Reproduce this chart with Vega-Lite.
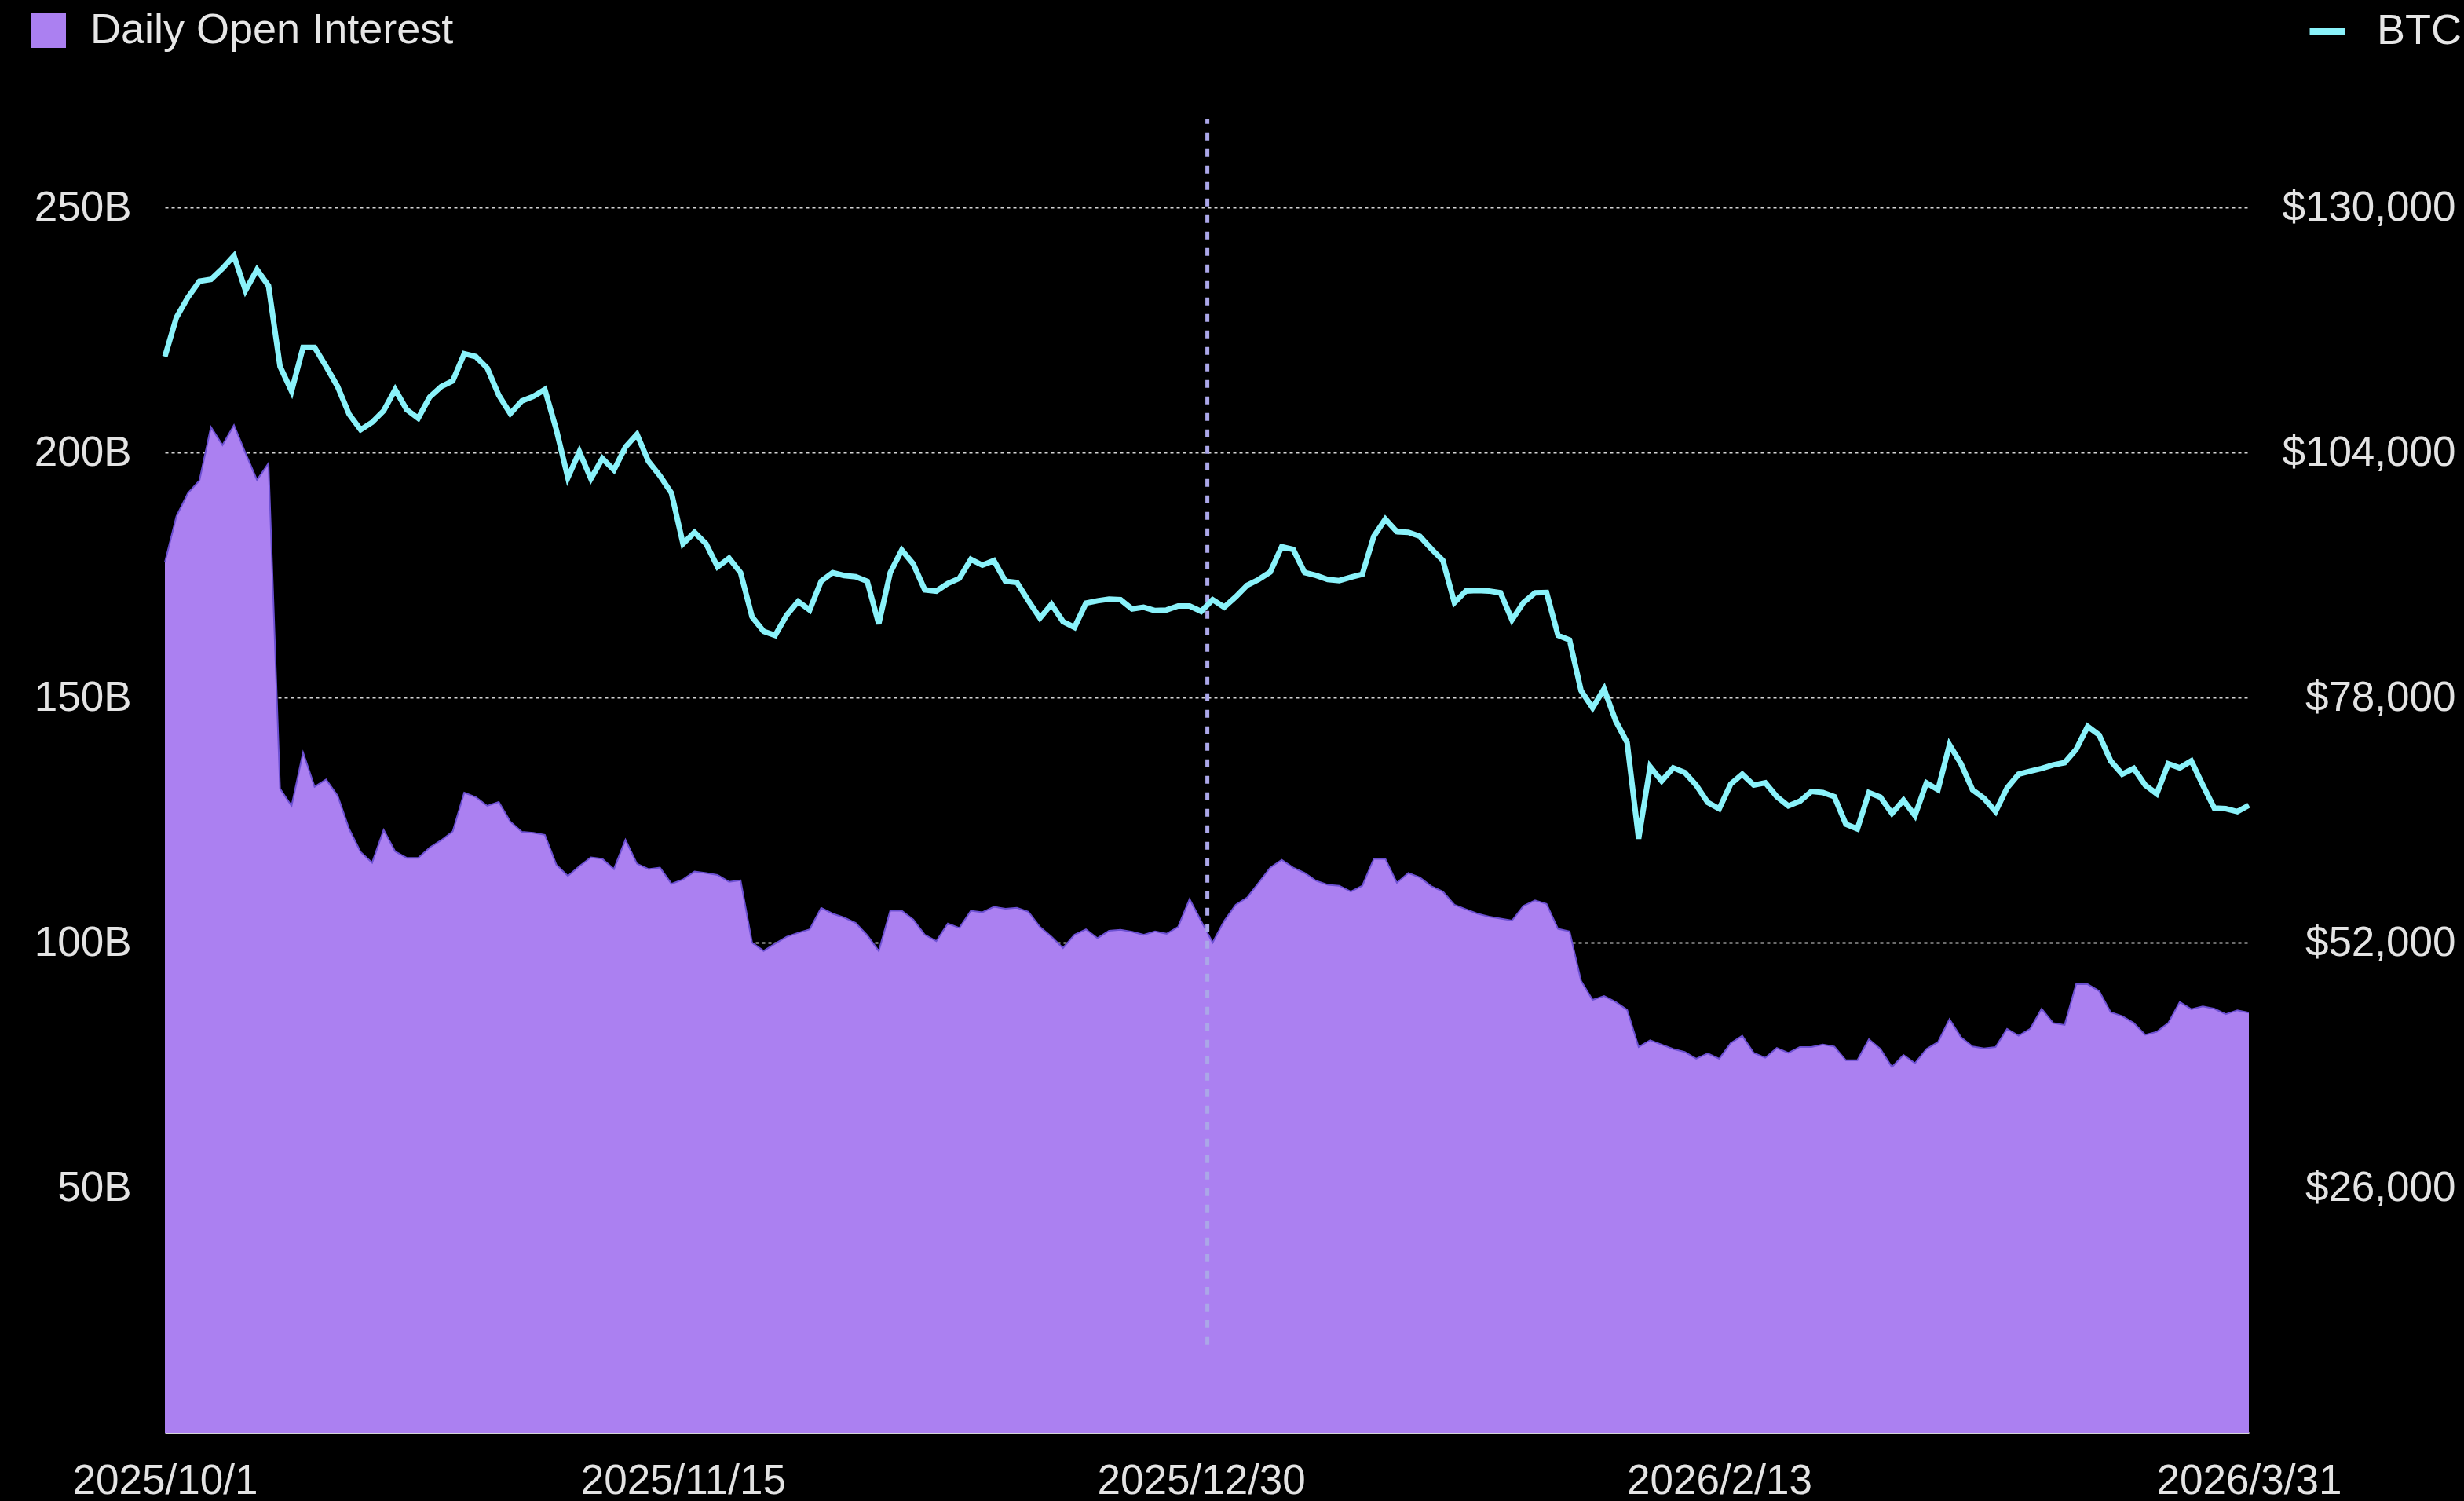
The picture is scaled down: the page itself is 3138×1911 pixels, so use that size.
{
  "$schema": "https://vega.github.io/schema/vega-lite/v6.json",
  "width": 2654,
  "height": 1747,
  "autosize": {"type": "none"},
  "padding": {"left": 210, "top": 77, "right": 274, "bottom": 87},
  "background": "#000000",
  "config": {
    "view": {"stroke": null},
    "font": "Liberation Sans",
    "axis": {"labelFont": "Liberation Sans", "labelFontSize": 53, "labelColor": "#e3e3e3", "title": null, "labelLimit": 0},
    "legend": {"labelFont": "Liberation Sans", "labelFontSize": 54, "labelColor": "#e6e6e6", "title": null, "padding": 0, "labelLimit": 0, "orient": "none"}
  },
  "data": {"values": [
    {"date":"2025-10-01","oi":177.6,"btc":114180},{"date":"2025-10-02","oi":187.0,"btc":118330},{"date":"2025-10-03","oi":191.7,"btc":120470},{"date":"2025-10-04","oi":194.3,"btc":122180},{"date":"2025-10-05","oi":205.2,"btc":122370},{"date":"2025-10-06","oi":201.5,"btc":123530},{"date":"2025-10-07","oi":205.6,"btc":124870},{"date":"2025-10-08","oi":199.9,"btc":121200},{"date":"2025-10-09","oi":194.4,"btc":123400},{"date":"2025-10-10","oi":197.8,"btc":121690},
    {"date":"2025-10-11","oi":131.4,"btc":113140},{"date":"2025-10-12","oi":127.9,"btc":110510},{"date":"2025-10-13","oi":138.8,"btc":115160},{"date":"2025-10-14","oi":131.8,"btc":115160},{"date":"2025-10-15","oi":133.3,"btc":113140},{"date":"2025-10-16","oi":130.0,"btc":111000},{"date":"2025-10-17","oi":123.2,"btc":108070},{"date":"2025-10-18","oi":118.5,"btc":106420},{"date":"2025-10-19","oi":116.3,"btc":107210},{"date":"2025-10-20","oi":123.0,"btc":108430},
    {"date":"2025-10-21","oi":118.6,"btc":110690},{"date":"2025-10-22","oi":117.3,"btc":108560},{"date":"2025-10-23","oi":117.3,"btc":107640},{"date":"2025-10-24","oi":119.4,"btc":109900},{"date":"2025-10-25","oi":120.9,"btc":111000},{"date":"2025-10-26","oi":122.7,"btc":111610},{"date":"2025-10-27","oi":130.6,"btc":114480},{"date":"2025-10-28","oi":129.7,"btc":114180},{"date":"2025-10-29","oi":127.9,"btc":112960},{"date":"2025-10-30","oi":128.7,"btc":110080},
    {"date":"2025-10-31","oi":124.7,"btc":108130},{"date":"2025-11-01","oi":122.6,"btc":109470},{"date":"2025-11-02","oi":122.4,"btc":109960},{"date":"2025-11-03","oi":122.0,"btc":110690},{"date":"2025-11-04","oi":115.9,"btc":106420},{"date":"2025-11-05","oi":113.6,"btc":101340},{"date":"2025-11-06","oi":115.6,"btc":104090},{"date":"2025-11-07","oi":117.4,"btc":101220},{"date":"2025-11-08","oi":117.1,"btc":103360},{"date":"2025-11-09","oi":115.0,"btc":102140},
    {"date":"2025-11-10","oi":121.0,"btc":104580},{"date":"2025-11-11","oi":116.1,"btc":105930},{"date":"2025-11-12","oi":115.0,"btc":103050},{"date":"2025-11-13","oi":115.3,"btc":101530},{"date":"2025-11-14","oi":112.0,"btc":99690},{"date":"2025-11-15","oi":112.9,"btc":94320},{"date":"2025-11-16","oi":114.5,"btc":95540},{"date":"2025-11-17","oi":114.2,"btc":94320},{"date":"2025-11-18","oi":113.8,"btc":91870},{"date":"2025-11-19","oi":112.4,"btc":92790},
    {"date":"2025-11-20","oi":112.7,"btc":91260},{"date":"2025-11-21","oi":100.0,"btc":86560},{"date":"2025-11-22","oi":98.3,"btc":85030},{"date":"2025-11-23","oi":99.8,"btc":84600},{"date":"2025-11-24","oi":101.2,"btc":86740},{"date":"2025-11-25","oi":102.0,"btc":88200},{"date":"2025-11-26","oi":102.7,"btc":87290},{"date":"2025-11-27","oi":107.1,"btc":90340},{"date":"2025-11-28","oi":105.9,"btc":91260},{"date":"2025-11-29","oi":105.1,"btc":90950},
    {"date":"2025-11-30","oi":104.0,"btc":90830},{"date":"2025-12-01","oi":101.5,"btc":90340},{"date":"2025-12-02","oi":98.3,"btc":85820},{"date":"2025-12-03","oi":106.5,"btc":91260},{"date":"2025-12-04","oi":106.5,"btc":93650},{"date":"2025-12-05","oi":104.7,"btc":92180},{"date":"2025-12-06","oi":101.6,"btc":89430},{"date":"2025-12-07","oi":100.3,"btc":89300},{"date":"2025-12-08","oi":103.9,"btc":90100},{"date":"2025-12-09","oi":103.0,"btc":90650},
    {"date":"2025-12-10","oi":106.5,"btc":92670},{"date":"2025-12-11","oi":106.2,"btc":92050},{"date":"2025-12-12","oi":107.3,"btc":92540},{"date":"2025-12-13","oi":106.9,"btc":90340},{"date":"2025-12-14","oi":107.1,"btc":90220},{"date":"2025-12-15","oi":106.3,"btc":88270},{"date":"2025-12-16","oi":103.2,"btc":86430},{"date":"2025-12-17","oi":101.2,"btc":87900},{"date":"2025-12-18","oi":98.9,"btc":86070},{"date":"2025-12-19","oi":101.6,"btc":85450},
    {"date":"2025-12-20","oi":102.7,"btc":88020},{"date":"2025-12-21","oi":100.9,"btc":88270},{"date":"2025-12-22","oi":102.4,"btc":88450},{"date":"2025-12-23","oi":102.6,"btc":88390},{"date":"2025-12-24","oi":102.2,"btc":87410},{"date":"2025-12-25","oi":101.6,"btc":87590},{"date":"2025-12-26","oi":102.3,"btc":87230},{"date":"2025-12-27","oi":101.8,"btc":87290},{"date":"2025-12-28","oi":103.2,"btc":87720},{"date":"2025-12-29","oi":108.9,"btc":87720},
    {"date":"2025-12-30","oi":104.4,"btc":87140},{"date":"2025-12-31","oi":100.0,"btc":88390},{"date":"2026-01-01","oi":104.4,"btc":87590},{"date":"2026-01-02","oi":107.7,"btc":88690},{"date":"2026-01-03","oi":109.2,"btc":89920},{"date":"2026-01-04","oi":112.2,"btc":90530},{"date":"2026-01-05","oi":115.3,"btc":91320},{"date":"2026-01-06","oi":116.9,"btc":94010},{"date":"2026-01-07","oi":115.3,"btc":93710},{"date":"2026-01-08","oi":114.2,"btc":91260},
    {"date":"2026-01-09","oi":112.6,"btc":90960},{"date":"2026-01-10","oi":111.8,"btc":90530},{"date":"2026-01-11","oi":111.6,"btc":90410},{"date":"2026-01-12","oi":110.4,"btc":90770},{"date":"2026-01-13","oi":111.6,"btc":91080},{"date":"2026-01-14","oi":117.1,"btc":95110},{"date":"2026-01-15","oi":117.1,"btc":96940},{"date":"2026-01-16","oi":112.2,"btc":95600},{"date":"2026-01-17","oi":114.2,"btc":95540},{"date":"2026-01-18","oi":113.3,"btc":95110},
    {"date":"2026-01-19","oi":111.5,"btc":93770},{"date":"2026-01-20","oi":110.4,"btc":92540},{"date":"2026-01-21","oi":107.7,"btc":88080},{"date":"2026-01-22","oi":106.8,"btc":89310},{"date":"2026-01-23","oi":105.9,"btc":89370},{"date":"2026-01-24","oi":105.3,"btc":89310},{"date":"2026-01-25","oi":104.9,"btc":89120},{"date":"2026-01-26","oi":104.5,"btc":86250},{"date":"2026-01-27","oi":107.5,"btc":88080},{"date":"2026-01-28","oi":108.6,"btc":89120},
    {"date":"2026-01-29","oi":107.9,"btc":89150},{"date":"2026-01-30","oi":102.8,"btc":84600},{"date":"2026-01-31","oi":102.3,"btc":84110},{"date":"2026-02-01","oi":92.2,"btc":78730},{"date":"2026-02-02","oi":88.3,"btc":76900},{"date":"2026-02-03","oi":89.1,"btc":78920},{"date":"2026-02-04","oi":87.9,"btc":75550},{"date":"2026-02-05","oi":86.3,"btc":73230},{"date":"2026-02-06","oi":78.7,"btc":63030},{"date":"2026-02-07","oi":80.1,"btc":70670},
    {"date":"2026-02-08","oi":79.2,"btc":69140},{"date":"2026-02-09","oi":78.3,"btc":70540},{"date":"2026-02-10","oi":77.7,"btc":70050},{"date":"2026-02-11","oi":76.3,"btc":68710},{"date":"2026-02-12","oi":77.4,"btc":66880},{"date":"2026-02-13","oi":76.3,"btc":66200},{"date":"2026-02-14","oi":79.5,"btc":68830},{"date":"2026-02-15","oi":81.0,"btc":69870},{"date":"2026-02-16","oi":77.5,"btc":68710},{"date":"2026-02-17","oi":76.5,"btc":68960},
    {"date":"2026-02-18","oi":78.5,"btc":67490},{"date":"2026-02-19","oi":77.5,"btc":66510},{"date":"2026-02-20","oi":78.7,"btc":67000},{"date":"2026-02-21","oi":78.7,"btc":68040},{"date":"2026-02-22","oi":79.2,"btc":67920},{"date":"2026-02-23","oi":78.8,"btc":67490},{"date":"2026-02-24","oi":76.0,"btc":64560},{"date":"2026-02-25","oi":76.0,"btc":64070},{"date":"2026-02-26","oi":80.3,"btc":67920},{"date":"2026-02-27","oi":78.3,"btc":67430},
    {"date":"2026-02-28","oi":74.6,"btc":65700},{"date":"2026-03-01","oi":77.1,"btc":67120},{"date":"2026-03-02","oi":75.4,"btc":65470},{"date":"2026-03-03","oi":78.3,"btc":68950},{"date":"2026-03-04","oi":79.7,"btc":68220},{"date":"2026-03-05","oi":84.4,"btc":72990},{"date":"2026-03-06","oi":80.7,"btc":70970},{"date":"2026-03-07","oi":78.8,"btc":68220},{"date":"2026-03-08","oi":78.4,"btc":67310},{"date":"2026-03-09","oi":78.7,"btc":65900},
    {"date":"2026-03-10","oi":82.4,"btc":68410},{"date":"2026-03-11","oi":81.0,"btc":69870},{"date":"2026-03-12","oi":82.4,"btc":70180},{"date":"2026-03-13","oi":86.5,"btc":70480},{"date":"2026-03-14","oi":83.6,"btc":70850},{"date":"2026-03-15","oi":83.2,"btc":71090},{"date":"2026-03-16","oi":91.5,"btc":72500},{"date":"2026-03-17","oi":91.5,"btc":74940},{"date":"2026-03-18","oi":90.1,"btc":74030},{"date":"2026-03-19","oi":85.8,"btc":71280},
    {"date":"2026-03-20","oi":85.0,"btc":69870},{"date":"2026-03-21","oi":83.6,"btc":70480},{"date":"2026-03-22","oi":81.2,"btc":68710},{"date":"2026-03-23","oi":81.8,"btc":67790},{"date":"2026-03-24","oi":83.6,"btc":70970},{"date":"2026-03-25","oi":87.9,"btc":70540},{"date":"2026-03-26","oi":86.4,"btc":71280},{"date":"2026-03-27","oi":87.0,"btc":68710},{"date":"2026-03-28","oi":86.5,"btc":66270},{"date":"2026-03-29","oi":85.4,"btc":66210},
    {"date":"2026-03-30","oi":86.2,"btc":65900},{"date":"2026-03-31","oi":85.7,"btc":66570}
  ]},
  "layer": [
    {
      "layer": [
        {
          "mark": {"type": "area", "opacity": 1, "interpolate": "linear"},
          "encoding": {
            "x": {
              "field": "date", "type": "temporal",
              "scale": {"type": "utc", "nice": false, "domain": [{"year": 2025, "month": 10, "date": 1, "utc": true}, {"year": 2026, "month": 3, "date": 31, "utc": true}]},
              "axis": {
                "values": [{"year": 2025, "month": 10, "date": 1, "utc": true}, {"year": 2025, "month": 11, "date": 15, "utc": true}, {"year": 2025, "month": 12, "date": 30, "utc": true}, {"year": 2026, "month": 2, "date": 13, "utc": true}, {"year": 2026, "month": 3, "date": 31, "utc": true}],
                "labelExpr": "utcFormat(datum.value, '%Y/%-m/%-d')",
                "grid": false, "ticks": false, "tickSize": 0, "domain": true, "domainColor": "#d6d6d6", "domainWidth": 3,
                "labelFlush": false, "labelOverlap": false, "labelPadding": 35, "labelBaseline": "top", "labelLimit": 0
              }
            },
            "y": {
              "field": "oi", "type": "quantitative",
              "scale": {"domain": [0, 280], "nice": false, "zero": true},
              "axis": {
                "orient": "left", "values": [50, 100, 150, 200, 250], "labelExpr": "datum.value + 'B'",
                "grid": true, "gridColor": "#d4d4d4", "gridDash": [4, 4], "gridWidth": 2,
                "domain": false, "ticks": false, "tickSize": 0, "labelPadding": 43, "labelLimit": 0
              }
            },
            "color": {
              "datum": "Daily Open Interest",
              "scale": {"range": ["#ab80f1"]},
              "legend": {"symbolType": "square", "symbolSize": 1936, "symbolStrokeWidth": 0, "labelOffset": 26, "legendX": -175, "legendY": -65}
            }
          }
        },
        {
          "mark": {"type": "line", "color": "#6c50d2", "strokeWidth": 2},
          "encoding": {
            "x": {"field": "date", "type": "temporal"},
            "y": {"field": "oi", "type": "quantitative"}
          }
        },
        {
          "data": {"values": [{"mark": "2025-12-30T13:00:00Z"}]},
          "mark": {"type": "rule", "color": "#aba7e8", "strokeWidth": 5, "strokeDash": [10, 11]},
          "encoding": {
            "x": {"field": "mark", "type": "temporal"},
            "y": {"datum": 18},
            "y2": {"datum": 268}
          }
        }
      ]
    },
    {
      "mark": {"type": "line", "strokeWidth": 7},
      "encoding": {
        "x": {"field": "date", "type": "temporal"},
        "y": {
          "field": "btc", "type": "quantitative",
          "scale": {"domain": [0, 145600], "nice": false, "zero": true},
          "axis": {
            "orient": "right", "values": [26000, 52000, 78000, 104000, 130000], "format": "$,.0f",
            "grid": false, "domain": false, "ticks": false, "tickSize": 0, "labelAlign": "right", "labelPadding": 263, "labelLimit": 0
          }
        },
        "stroke": {
          "datum": "BTC",
          "scale": {"range": ["#8af2fa"]},
          "legend": {"symbolType": "stroke", "symbolSize": 2025, "symbolStrokeWidth": 8, "labelOffset": 36, "legendX": 2727, "legendY": -64}
        }
      }
    }
  ],
  "resolve": {"scale": {"y": "independent"}}
}
